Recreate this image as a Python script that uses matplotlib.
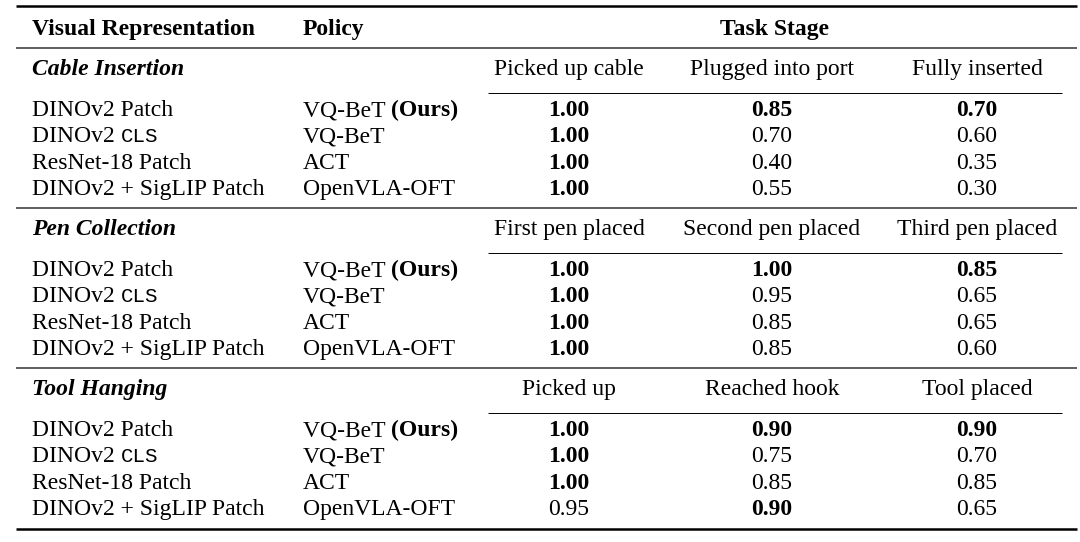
import matplotlib.pyplot as plt

SERIF = "Liberation Serif"
MONO = "Liberation Mono"

sections = ["Cable Insertion", "Pen Collection", "Tool Hanging"]
stages = [
    ["Picked up cable", "Plugged into port", "Fully inserted"],
    ["First pen placed", "Second pen placed", "Third pen placed"],
    ["Picked up", "Reached hook", "Tool placed"],
]
representations = ["DINOv2 Patch", "DINOv2 CLS", "ResNet-18 Patch", "DINOv2 + SigLIP Patch"]
policies = ["VQ-BeT (Ours)", "VQ-BeT", "ACT", "OpenVLA-OFT"]
scores = [
    [[1.00, 0.85, 0.70], [1.00, 0.70, 0.60], [1.00, 0.40, 0.35], [1.00, 0.55, 0.30]],
    [[1.00, 1.00, 0.85], [1.00, 0.95, 0.65], [1.00, 0.85, 0.65], [1.00, 0.85, 0.60]],
    [[1.00, 0.90, 0.90], [1.00, 0.75, 0.70], [1.00, 0.85, 0.85], [0.95, 0.90, 0.65]],
]

FS = 17


def main():
    fig = plt.figure(figsize=(10.8, 5.42), dpi=100)
    ax = fig.add_axes([0, 0, 1, 1])
    ax.set_xlim(0, 1080)
    ax.set_ylim(542, 0)
    ax.axis("off")
    fig.canvas.draw()
    renderer = fig.canvas.get_renderer()

    col1, col2 = 32, 303
    centers = [569, 772, 977]
    left, right = 16, 1077
    cm_left, cm_right = 488, 1062

    def put(x, y, s, **kw):
        return ax.text(x, y, s, fontsize=FS, va="baseline", family=SERIF, **kw)

    def width(t):
        return t.get_window_extent(renderer=renderer).width

    # header
    ax.hlines(6, left, right, color="black", lw=1.8)
    put(col1, 35, "Visual Representation", weight="bold")
    put(col2, 35, "Policy", weight="bold")
    put((cm_left + cm_right) / 2, 35, "Task Stage", weight="bold", ha="center")

    rules = [48, 208, 368, 529]
    for si, name in enumerate(sections):
        r = rules[si]
        ax.hlines(r, left, right, color="#333333", lw=1.1)
        put(col1, r + 27, name, weight="bold", style="italic")
        for ci, st in enumerate(stages[si]):
            put(centers[ci], r + 27, st, ha="center")
        ax.hlines(r + 45, cm_left, cm_right, color="black", lw=0.7)

        col_best = [max(row[c] for row in scores[si]) for c in range(3)]
        for ri in range(4):
            y = r + 68 + ri * 26.3
            rep = representations[ri]
            if rep.endswith("CLS"):
                t = put(col1, y, "DINOv2 ")
                ax.text(col1 + width(t), y, "CLS", fontsize=FS - 2, va="baseline", family=MONO)
            else:
                put(col1, y, rep)
            pol = policies[ri]
            if pol.endswith("(Ours)"):
                t = put(col2, y, "VQ-BeT ")
                put(col2 + width(t), y, "(Ours)", weight="bold")
            else:
                put(col2, y, pol)
            for ci in range(3):
                v = scores[si][ri][ci]
                w = "bold" if v == col_best[ci] else "normal"
                put(centers[ci], y, f"{v:.2f}", ha="center", weight=w)

    ax.hlines(rules[-1], left, right, color="black", lw=1.8)

    fig.savefig("out.png", dpi=100, facecolor="white")


if __name__ == "__main__":
    main()
